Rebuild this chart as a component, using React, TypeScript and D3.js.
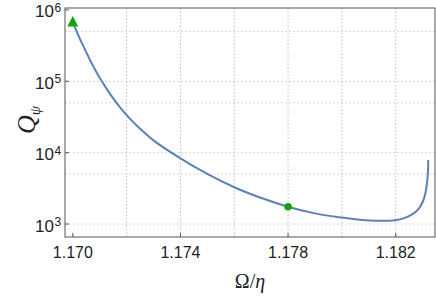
import React from "react";
import { scaleLinear, scaleLog, line, curveCatmullRom } from "d3";

const width = 436;
const height = 296;

// curve (Omega/eta, Q_psi)
const omegaVals = [
  1.17, 1.17012, 1.17027, 1.17046, 1.17064, 1.17101, 1.17139, 1.17176,
  1.17213, 1.1725, 1.17306, 1.174, 1.17498, 1.176, 1.17696, 1.17799, 1.179,
  1.18, 1.18067, 1.18134, 1.18197, 1.18234, 1.18264, 1.18286, 1.18301,
  1.1831, 1.18316, 1.1832, 1.18321,
];
const qVals = [
  6.68e5, 5.21e5, 3.88e5, 2.76e5, 1.99e5, 1.1e5, 6.6e4, 4.28e4, 2.98e4,
  2.17e4, 1.43e4, 8.34e3, 5.09e3, 3.28e3, 2.35e3, 1.75e3, 1.41e3, 1.23e3,
  1.15e3, 1.11e3, 1.13e3, 1.22e3, 1.39e3, 1.65e3, 2.07e3, 2.68e3, 3.64e3,
  5.53e3, 7.89e3,
];

const xTicks = [1.17, 1.174, 1.178, 1.182];
const xGrid = [1.172, 1.174, 1.176, 1.178, 1.18, 1.182];
const yTicks = [1e3, 1e4, 1e5, 1e6];
const yGrid = [1e3, 5e3, 1e4, 5e4, 1e5, 5e5];
const triangle = { x: 1.17, q: 6.68e5 };
const dot = { x: 1.178, q: 1.75e3 };

const margin = { top: 8, right: 1, bottom: 59, left: 65 };

export default function App() {
  const innerW = width - margin.left - margin.right;
  const innerH = height - margin.top - margin.bottom;

  const x = scaleLinear().domain([1.16971, 1.18346]).range([0, innerW]);
  const y = scaleLog().domain([658, 1.065e6]).range([innerH, 0]);

  const data = omegaVals.map((o, i) => ({ o, q: qVals[i] }));
  const path = line<{ o: number; q: number }>()
    .x((d) => x(d.o))
    .y((d) => y(d.q))
    .curve(curveCatmullRom.alpha(0.5))(data);

  const frameColor = "#555";
  const green = "#12a212";
  const tx = x(triangle.x);
  const ty = y(triangle.q);

  return (
    <svg
      width={width}
      height={height}
      style={{ position: "absolute", left: 0, top: 0 }}
      fontFamily="'Liberation Sans', Arial, sans-serif"
    >
      <g transform={`translate(${margin.left},${margin.top})`}>
        {yGrid.map((t) => (
          <line
            key={"hg" + t}
            x1={0}
            x2={innerW}
            y1={y(t)}
            y2={y(t)}
            stroke="#d8d8d8"
            strokeDasharray="2,2"
          />
        ))}
        {xGrid.map((t) => (
          <line
            key={"vg" + t}
            x1={x(t)}
            x2={x(t)}
            y1={0}
            y2={innerH}
            stroke="#bdbdbd"
            strokeDasharray="1.5,2"
          />
        ))}

        <rect
          x={0}
          y={0}
          width={innerW}
          height={innerH}
          fill="none"
          stroke={frameColor}
          strokeWidth={1}
        />

        {xTicks.map((t) => (
          <g key={"xt" + t} transform={`translate(${x(t)},0)`}>
            <line y1={innerH} y2={innerH - 4} stroke={frameColor} />
            <text
              y={innerH + 21}
              textAnchor="middle"
              fontSize={16}
              fill="#222"
            >
              {t.toFixed(3)}
            </text>
          </g>
        ))}

        {yTicks.map((t) => (
          <g key={"yt" + t} transform={`translate(0,${y(t)})`}>
            <line x1={0} x2={4} stroke={frameColor} />
            <text x={-11} y={7.5} textAnchor="end" fontSize={17} fill="#222">
              10
            </text>
            <text x={-10.5} y={2} textAnchor="start" fontSize={12} fill="#222">
              {Math.round(Math.log10(t))}
            </text>
          </g>
        ))}

        <path d={path ?? ""} fill="none" stroke="#5E81B5" strokeWidth={2} />

        <path
          d={`M${tx},${ty - 6.5} L${tx + 5.5},${ty + 4} L${tx - 5.5},${ty + 4} Z`}
          fill={green}
        />
        <circle cx={x(dot.x)} cy={y(dot.q)} r={3.8} fill={green} />
      </g>

      <text
        x={250}
        y={288}
        textAnchor="middle"
        fontFamily="'Liberation Serif', 'Times New Roman', serif"
        fontSize={20}
        fill="#222"
      >
        Ω/<tspan fontStyle="italic">η</tspan>
      </text>

      <text
        transform="translate(35,120) rotate(-90)"
        textAnchor="middle"
        fontFamily="'Liberation Serif', 'Times New Roman', serif"
        fontStyle="italic"
        fontSize={26}
        fill="#222"
      >
        Q
        <tspan fontSize={15} dy={5}>
          ψ
        </tspan>
      </text>
    </svg>
  );
}
